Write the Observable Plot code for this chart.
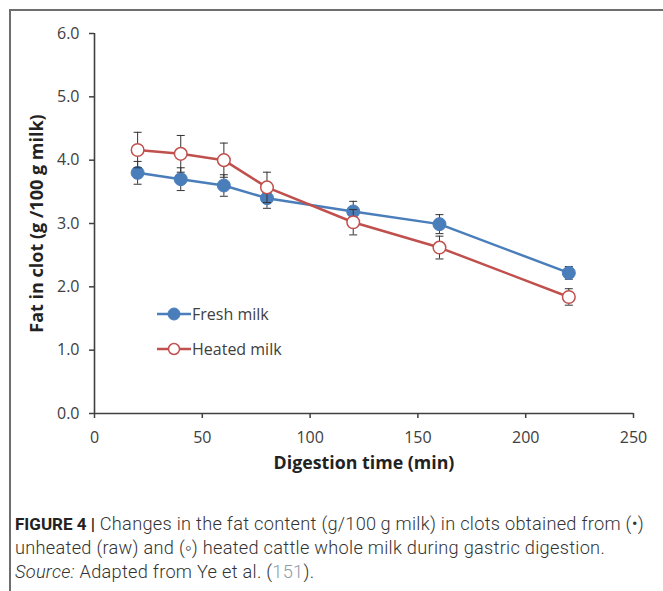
<!DOCTYPE html>
<html>
<head>
<meta charset="utf-8">
<script src="https://cdn.jsdelivr.net/npm/d3@7"></script>
<script src="https://cdn.jsdelivr.net/npm/@observablehq/plot@0.6"></script>
<style>
  html, body { margin: 0; padding: 0; background: #fff; }
  #wrap { position: relative; width: 663px; height: 591px; overflow: hidden; }
  #frame { position: absolute; left: 9px; top: 9px; width: 660px; height: 600px;
           border-top: 2px solid #6e6e6e; border-left: 2px solid #6e6e6e; box-sizing: border-box; }
  #chart { position: absolute; left: 0; top: 0; }
  #legend { position: absolute; left: 0; top: 0; pointer-events: none; }
  #caption { position: absolute; left: 15px; top: 512px; width: 648px;
             font-family: Roboto, "Liberation Sans", sans-serif; font-weight: 300;
             font-size: 18.2px; letter-spacing: 0.28px; line-height: 24px; color: #333; white-space: nowrap; }
  #caption b { font-family: Roboto, "Liberation Sans", sans-serif; font-weight: 700; color: #222;
               font-size: 17px; letter-spacing: 0; }
  #caption .ref { color: #8c9bab; }
</style>
</head>
<body>
<div id="wrap">
  <div id="frame"></div>
  <div id="chart"></div>
  <svg id="legend" width="663" height="490"></svg>
  <div id="caption"></div>
</div>
<script>
// ---- data ----
const times = [20, 40, 60, 80, 120, 160, 220];
const freshMean = [3.80, 3.70, 3.60, 3.40, 3.19, 2.99, 2.22];
const freshSD   = [0.18, 0.18, 0.17, 0.16, 0.16, 0.15, 0.10];
const heatedMean = [4.16, 4.10, 4.00, 3.57, 3.02, 2.62, 1.84];
const heatedSD   = [0.28, 0.29, 0.27, 0.24, 0.20, 0.18, 0.13];
const seriesNames = ["Fresh milk", "Heated milk"];
const seriesColors = ["#4a7ebb", "#c0504d"];
const seriesFill = ["#4a7ebb", "#ffffff"];
const xTicks = [0, 50, 100, 150, 200, 250];
const yTicks = [0, 1, 2, 3, 4, 5, 6];
const xTitle = "Digestion time (min)";
const yTitle = "Fat in clot (g /100 g milk)";

const fresh = times.map((t, i) => ({time: t, mean: freshMean[i], sd: freshSD[i], series: seriesNames[0]}));
const heated = times.map((t, i) => ({time: t, mean: heatedMean[i], sd: heatedSD[i], series: seriesNames[1]}));
const all = fresh.concat(heated);
const caps = all.flatMap(d => [{time: d.time, v: d.mean - d.sd}, {time: d.time, v: d.mean + d.sd}]);

const capSymbol = { draw(ctx, size) { ctx.moveTo(-4, 0); ctx.lineTo(4, 0); } };

const font = "'Open Sans', 'Noto Sans', sans-serif";

const chart = Plot.plot({
  width: 663,
  height: 490,
  marginLeft: 94,
  marginRight: 30,
  marginTop: 33,
  marginBottom: 77,
  style: { fontFamily: font, fontSize: "16px", color: "#404040", background: "transparent" },
  x: { domain: [0, 250] },
  y: { domain: [0, 6] },
  marks: [
    Plot.axisX({ ticks: xTicks, tickSize: 5, tickPadding: 13, label: null, stroke: "#404040", strokeWidth: 1.5, fill: "#404040" }),
    Plot.axisY({ ticks: yTicks, tickSize: 5, tickPadding: 10, label: null, tickFormat: d => d.toFixed(1), stroke: "#404040", strokeWidth: 1.5, fill: "#404040" }),
    Plot.ruleY([0], { stroke: "#404040", strokeWidth: 1.6 }),
    Plot.ruleX([0], { stroke: "#404040", strokeWidth: 1.6 }),
    Plot.text([xTitle], { frameAnchor: "bottom", dy: 55, fontWeight: "bold", fontSize: 17.8, fill: "#222" }),
    Plot.text([yTitle], { frameAnchor: "left", textAnchor: "middle", dx: -57, rotate: -90, fontWeight: "bold", fontSize: 18, fill: "#222" }),
    // fresh
    Plot.line(fresh, { x: "time", y: "mean", stroke: seriesColors[0], strokeWidth: 2.5 }),
    Plot.ruleX(fresh, { x: "time", y1: d => d.mean - d.sd, y2: d => d.mean + d.sd, stroke: "#333", strokeWidth: 1 }),
    Plot.dot(caps.slice(0, 14), { x: "time", y: "v", symbol: capSymbol, r: 4, stroke: "#333", strokeWidth: 1, fill: "none" }),
    Plot.dot(fresh, { x: "time", y: "mean", r: 6.5, fill: seriesFill[0], stroke: seriesColors[0], strokeWidth: 1 }),
    // heated
    Plot.line(heated, { x: "time", y: "mean", stroke: seriesColors[1], strokeWidth: 2.5 }),
    Plot.ruleX(heated, { x: "time", y1: d => d.mean - d.sd, y2: d => d.mean + d.sd, stroke: "#333", strokeWidth: 1 }),
    Plot.dot(caps.slice(14), { x: "time", y: "v", symbol: capSymbol, r: 4, stroke: "#333", strokeWidth: 1, fill: "none" }),
    Plot.dot(heated, { x: "time", y: "mean", r: 6.3, fill: seriesFill[1], stroke: seriesColors[1], strokeWidth: 1.5 })
  ]
});
document.getElementById("chart").appendChild(chart);

// ---- legend (inside plot area) ----
const lg = d3.select("#legend");
seriesNames.forEach((name, i) => {
  const y = 314 + i * 35;
  const g = lg.append("g");
  g.append("line").attr("x1", 157).attr("x2", 191).attr("y1", y).attr("y2", y)
    .attr("stroke", seriesColors[i]).attr("stroke-width", 2.5);
  g.append("circle").attr("cx", 174).attr("cy", y).attr("r", i === 0 ? 6 : 5.5)
    .attr("fill", seriesFill[i]).attr("stroke", seriesColors[i]).attr("stroke-width", i === 0 ? 1 : 1.5);
  g.append("text").attr("x", 192).attr("y", y).attr("dy", "0.35em")
    .attr("font-family", font).attr("font-size", 16).attr("fill", "#404040").text(name);
});

// ---- caption ----
document.getElementById("caption").innerHTML =
  "<b>FIGURE 4 |</b> Changes in the fat content (g/100\u2009g milk) in clots obtained from (\u2022)<br>" +
  "unheated (raw) and (\u25E6) heated cattle whole milk during gastric digestion.<br>" +
  "<i>Source:</i> Adapted from Ye et al. (<span class=\"ref\">151</span>).";
</script>
</body>
</html>
